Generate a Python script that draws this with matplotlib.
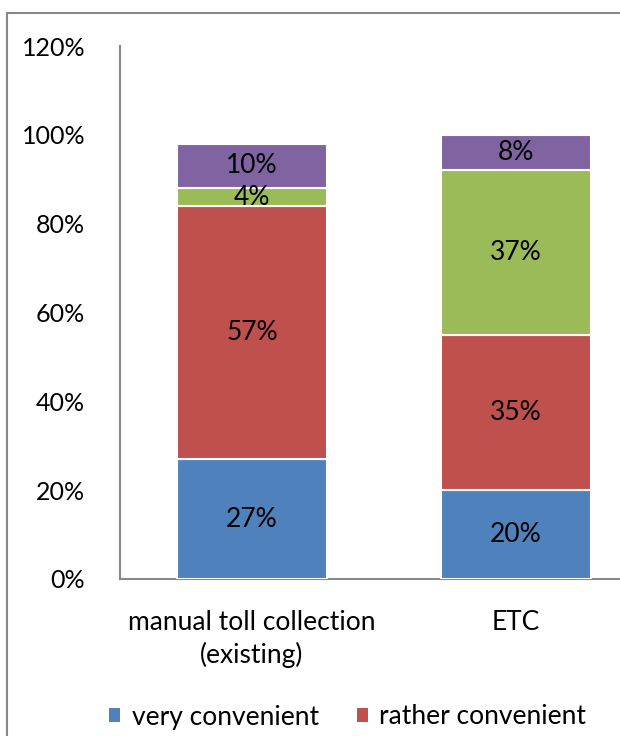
import numpy as np
import matplotlib
import matplotlib.pyplot as plt
from matplotlib.patches import Patch, Rectangle

matplotlib.use("Agg")

categories = ["manual toll collection\n(existing)", "ETC"]
very_convenient = [27, 20]
rather_convenient = [57, 35]
somewhat = [4, 37]
other = [10, 8]
series_names = ["very convenient", "rather convenient"]
yticks = [0, 20, 40, 60, 80, 100, 120]

colors = ["#4F81BD", "#C0504D", "#9BBB59", "#8064A2"]

plt.rcParams["font.family"] = ["Lato", "DejaVu Sans"]
FS = 19

W, H = 620, 736
fig = plt.figure(figsize=(W / 100, H / 100), dpi=100)

# outer chart frame (cropped at right and bottom)
fig.patches.append(Rectangle((7 / W, -0.1), 1.2, 1 - 13 / H + 0.1,
                             transform=fig.transFigure, fill=False,
                             edgecolor="#888888", linewidth=1.5))

ax = fig.add_axes([120 / W, 1 - 579 / H, 528 / W, (579 - 46) / H])

x = np.arange(len(categories))
bottom = np.zeros(len(categories))
for vals, c in zip([very_convenient, rather_convenient, somewhat, other], colors):
    bars = ax.bar(x, vals, width=0.568, bottom=bottom, color=c,
                  edgecolor="white", linewidth=1.5, zorder=3)
    for b, v in zip(bars, vals):
        ax.text(b.get_x() + b.get_width() / 2, b.get_y() + v / 2, f"{v}%",
                ha="center", va="center", fontsize=FS, color="black", zorder=4)
    bottom += np.array(vals)

ax.set_xlim(-0.5, 1.5)
ax.set_ylim(0, 120)
ax.set_yticks(yticks)
ax.set_yticklabels([f"{t}%" for t in yticks], fontsize=18)
ax.set_xticks(x)
ax.set_xticklabels(categories, fontsize=FS, linespacing=1.35)
ax.tick_params(axis="y", length=0, pad=25)
ax.tick_params(axis="x", length=0, pad=22)
for s in ["top", "right"]:
    ax.spines[s].set_visible(False)
for s in ["left", "bottom"]:
    ax.spines[s].set_color("#888888")
    ax.spines[s].set_linewidth(1.5)

handles = [Patch(facecolor=colors[i]) for i in range(2)]
fig.legend(handles, series_names, loc="center left",
           bbox_to_anchor=(96 / W, 1 - 717 / H), ncol=2, frameon=False,
           fontsize=FS, handlelength=0.4, handleheight=0.4,
           handletextpad=0.45, columnspacing=1.45, borderpad=0)

fig.savefig("out.png", dpi=100, facecolor="white")
